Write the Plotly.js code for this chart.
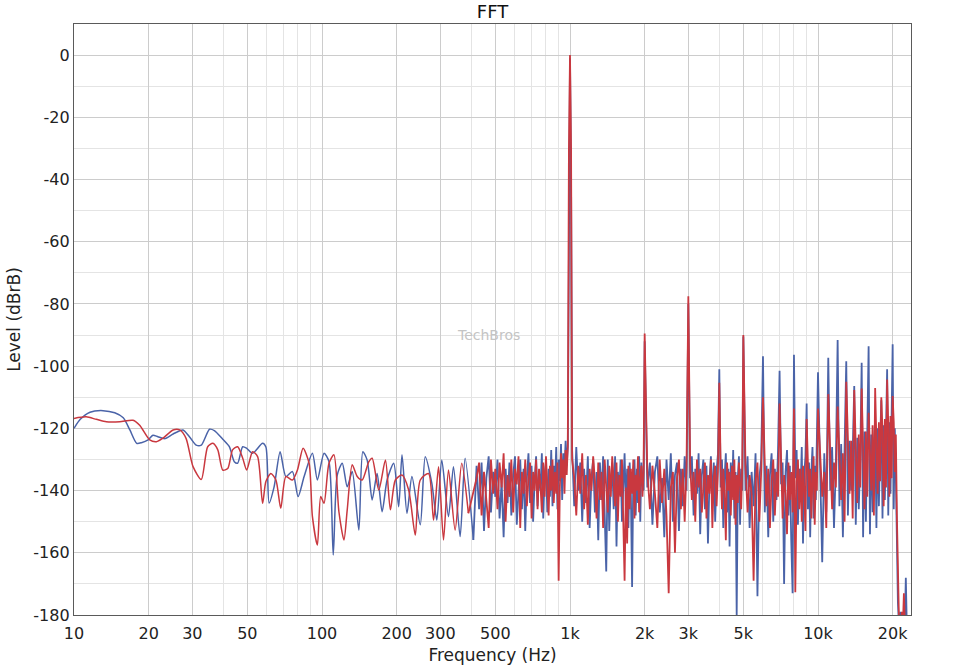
<!DOCTYPE html>
<html>
<head>
<meta charset="utf-8">
<script src="https://cdn.plot.ly/plotly-3.0.1.min.js"></script>
<style>
  html, body { margin: 0; padding: 0; background: #fff; }
  #fft { width: 953px; height: 666px; }
</style>
</head>
<body>
<div id="fft"></div>
<script>
// x axis ticks
const tickVals = [10, 20, 30, 50, 100, 200, 300, 500, 1000, 2000, 3000, 5000, 10000, 20000];
const tickText = ['10', '20', '30', '50', '100', '200', '300', '500', '1k', '2k', '3k', '5k', '10k', '20k'];
const minorVals = [40, 60, 70, 80, 90, 400, 600, 700, 800, 900, 4000, 6000, 7000, 8000, 9000];
// y axis ticks (plain hyphen, as in the original)
const levelTicks = [-180, -160, -140, -120, -100, -80, -60, -40, -20, 0];
const levelText = ['-180', '-160', '-140', '-120', '-100', '-80', '-60', '-40', '-20', '0'];

// low end (Hz / dBrB)
const blueLowFreq = [10, 10.6, 11.6, 13.1, 14.6, 15.8, 16.8, 17.9, 18.7, 19.9,
  20.8, 21.8, 23.2, 25.1, 27.5, 29.2, 31.1, 32.6, 35.2, 36.8,
  39.8, 42.3, 44.3, 45.7, 47.9, 49.7, 52.5, 57.6, 59.4, 61.2,
  64.1, 67.8, 71.5, 76, 80.1, 84.7, 91.5, 95.8, 101.9, 106.7,
  111, 115.2, 120.7, 126.4, 132.4, 140.8, 146.1, 152.1, 159.3, 166.8,
  174.7, 183, 194.6, 203.8, 210.2, 220.1, 230.5, 249, 260.8, 277.3,
  290.4, 304.1, 323.6, 338.9, 360.6, 377.6, 407.7];
const blueLowLevel = [-120, -117.1, -114.8, -114.3, -115, -116.6, -120.5, -124.8, -124.6, -123.7,
  -122.2, -122.7, -123.3, -121.8, -120.5, -122.7, -125.4, -125.4, -120.3, -120.7,
  -123.5, -125.9, -130.7, -131.2, -125.9, -126.4, -128, -124.8, -126, -144,
  -138.8, -127.5, -135.5, -133.9, -141.9, -135.5, -128, -136.6, -128, -130.7,
  -160.7, -135, -131.2, -138.8, -133.9, -152.7, -127.5, -130.2, -143, -134.5,
  -146.8, -136.6, -131.2, -145.2, -128.5, -147.3, -135.5, -151, -129.1, -137.7,
  -149.5, -130.2, -148.4, -132.3, -154.8, -129.6, -155.9];

const redLowFreq = [10, 11.2, 12.3, 13.5, 15.3, 17.3, 18.4, 20.2, 21.5, 22.8,
  25.1, 26.7, 28.3, 30.2, 32.6, 34.6, 36.3, 38, 39.8, 41.7,
  43.6, 45.7, 47.9, 49.7, 52.5, 55, 57.6, 59.4, 62.2, 65.2,
  68.2, 71.5, 76, 79.6, 83.9, 88.7, 91.5, 95.8, 98.8, 101.9,
  106.7, 111.7, 117, 122.6, 126.4, 132.4, 138.7, 145.2, 154.5, 159.3,
  169.4, 180.2, 188.7, 197.6, 210.2, 223.6, 237.8, 249, 269, 281.7,
  295.1, 309, 323.6, 344.2, 366, 389.3];
const redLowLevel = [-116.8, -116.3, -117.1, -117.9, -117.9, -117.4, -119, -123.7, -124.3, -123.2,
  -120.5, -120.5, -123.2, -132.3, -136.4, -125.9, -124.8, -126.9, -133.4, -132.9,
  -126.9, -125.9, -129.6, -133.4, -127.5, -129.1, -144.1, -137.1, -134.5, -136.6,
  -145.7, -135.5, -136.6, -133.4, -126.4, -131.2, -148.4, -157.5, -141.9, -144.1,
  -131.2, -128.5, -146.8, -155.9, -146.2, -131.7, -135.5, -136.6, -130.7, -129.6,
  -139.8, -130.2, -146.2, -136.6, -135, -139.8, -154.3, -136.6, -134.5, -149.5,
  -132.3, -155.9, -133.4, -152.7, -131.2, -147.3];

// dense part, both channels on the same bins
const denseFreq = [
  420, 430, 440, 450, 460, 470, 480, 490, 500, 510,
  520, 530, 540, 550, 560, 570, 580, 590, 600, 610,
  620, 630, 640, 650, 660, 670, 680, 690, 700, 710,
  720, 730, 740, 750, 760, 770, 780, 790, 800, 810,
  820, 830, 840, 850, 860, 870, 880, 890, 900, 910,
  920, 930, 940, 950, 960, 970, 980,
  990, 1000, 1010,
  1020, 1040, 1060, 1080, 1100, 1120, 1140, 1160, 1180, 1200,
  1220, 1240, 1260, 1280, 1300, 1320, 1340, 1360, 1380, 1400,
  1420, 1440, 1460, 1480, 1500, 1520, 1540, 1560, 1580, 1600,
  1620, 1640, 1660, 1680, 1700, 1720, 1740, 1760, 1780, 1800,
  1820, 1840, 1860, 1880, 1900, 1920, 1940, 1960, 1980,
  2000,
  2050, 2100, 2150, 2200, 2250, 2300, 2350, 2400, 2450, 2500,
  2550, 2600, 2650, 2700, 2750, 2800, 2850, 2900, 2950,
  3000,
  3050, 3100, 3150, 3200, 3250, 3300, 3350, 3400, 3450, 3500,
  3550, 3600, 3650, 3700, 3750, 3800, 3850, 3900, 3950, 4000,
  4050, 4100, 4150, 4200, 4250, 4300, 4350, 4400, 4450, 4500,
  4550, 4600, 4650, 4700, 4750, 4800, 4850, 4900, 4950,
  5000,
  5100, 5200, 5300, 5400, 5500, 5600, 5700, 5800, 5900, 6000,
  6100, 6200, 6300, 6400, 6500, 6600, 6700, 6800, 6900, 7000,
  7100, 7200, 7300, 7400, 7500, 7600, 7700, 7800, 7900, 8000,
  8100, 8200, 8300, 8400, 8500, 8600, 8700, 8800, 8900, 9000,
  9100, 9200, 9300, 9400, 9500, 9600, 9700, 9800, 9900,
  10000,
  10200, 10400, 10600, 10800, 11000,
  11200, 11400, 11600, 11800, 12000,
  12200, 12400, 12600, 12800, 13000,
  13200, 13400, 13600, 13800, 14000,
  14200, 14400, 14600, 14800, 15000,
  15200, 15400, 15600, 15800, 16000,
  16200, 16400, 16600, 16800, 17000,
  17200, 17400, 17600, 17800, 18000,
  18200, 18400, 18600, 18800, 19000,
  19200, 19400, 19600, 19800, 20000,
  20200, 20400, 20600, 20800];

const blueDenseLevel = [
  -132, -146, -131, -153, -136, -129, -147, -134, -142, -130,
  -149, -137, -155, -133, -144, -131, -148, -135, -129, -151,
  -138, -130, -146, -133, -153, -136, -128, -144, -132, -150,
  -137, -129, -145, -134, -140, -128, -149, -135, -131, -147,
  -133, -142, -127, -145, -132, -138, -126, -146, -130, -137,
  -125, -143, -128, -134, -124, -132, -126,
  -40, -1, -40,
  -127, -145, -126, -140, -131, -150, -133, -144, -129, -152,
  -136, -130, -147, -134, -156, -131, -143, -129, -149, -166,
  -130, -153, -137, -131, -146, -129, -158, -134, -141, -130,
  -150, -136, -128, -145, -133, -152, -131, -141, -171, -135,
  -130, -148, -133, -144, -129, -150, -131, -138, -140,
  -92,
  -139, -131, -151, -134, -129, -147, -136, -155, -130, -143,
  -128, -150, -135, -131, -153, -133, -145, -129, -140,
  -80,
  -136, -129, -148, -133, -141, -128, -154, -135, -130, -146,
  -132, -157, -137, -129, -144, -131, -150, -134, -128, -101,
  -139, -130, -152, -136, -128, -147, -133, -158, -131, -142,
  -127, -149, -134, -180, -136, -129, -151, -133, -140,
  -90.5,
  -140, -129, -152, -134, -145, -128, -174, -136, -130, -96.8,
  -147, -132, -155, -135, -128, -150, -133, -143, -127, -101.5,
  -138, -131, -170, -134, -127, -148, -132, -156, -173, -96.3,
  -136, -127, -151, -133, -141, -126, -157, -135, -129, -112,
  -146, -131, -155, -134, -126, -149, -132, -143, -127,
  -102,
  -133, -163, -128, -147, -97.3,
  -140, -126, -152, -132, -91.6,
  -145, -125, -155, -131, -98.4,
  -148, -124, -140, -128, -106.4,
  -151, -123, -146, -130, -98.9,
  -155, -121, -150, -127, -93.6,
  -154, -122, -147, -126, -118,
  -152, -120, -145, -125, -111,
  -149, -119, -143, -123, -101,
  -148, -118, -141, -122, -93,
  -146, -120, -135, -158];

const redDenseLevel = [
  -136, -131, -148, -134, -143, -152, -130, -141, -133, -146,
  -131, -139, -128, -150, -135, -142, -130, -147, -133, -138,
  -129, -152, -134, -141, -130, -145, -136, -131, -149, -134,
  -140, -130, -146, -133, -138, -147, -131, -142, -129, -139,
  -148, -132, -140, -130, -144, -134, -141, -131, -169, -139,
  -128, -136, -130, -141, -127, -135, -125,
  -30, 0, -30,
  -130, -136, -148, -132, -141, -128, -146, -135, -151, -133,
  -140, -129, -137, -149, -131, -143, -134, -152, -130, -139,
  -147, -132, -142, -129, -138, -145, -131, -150, -135, -142,
  -130, -148, -169, -139, -157, -132, -146, -133, -141, -130,
  -149, -135, -140, -129, -147, -136, -132, -142, -134,
  -89.5,
  -134, -146, -132, -141, -152, -130, -144, -133, -148, -173,
  -139, -134, -160, -136, -130, -146, -133, -150, -132,
  -77.5,
  -131, -143, -134, -150, -130, -139, -133, -147, -139, -131,
  -149, -135, -141, -130, -152, -136, -132, -145, -134, -105.3,
  -132, -146, -133, -141, -156, -131, -140, -134, -148, -132,
  -143, -130, -151, -135, -144, -131, -138, -146, -132,
  -90,
  -132, -147, -135, -141, -169, -137, -131, -150, -134, -110,
  -131, -145, -133, -152, -137, -130, -148, -134, -142, -112,
  -130, -149, -135, -141, -154, -131, -143, -134, -147, -113.6,
  -172.7, -137, -130, -146, -133, -150, -132, -140, -153, -117,
  -131, -142, -133, -149, -136, -129, -151, -134, -140,
  -113.6,
  -128, -142, -134, -152, -109,
  -127, -146, -131, -139, -113,
  -129, -143, -128, -150, -105,
  -126, -141, -124, -149, -107.7,
  -125, -144, -122, -139, -107.2,
  -128, -146, -121, -142, -115,
  -125, -140, -119, -148, -107,
  -123, -141, -118, -137, -110,
  -121, -145, -117, -139, -104.3,
  -119, -142, -116, -136, -109.6,
  -118, -134, -122, -148];

// roll-off above 20k
const blueTailFreq = [21000, 21200, 21500, 21800, 22100, 22400, 22600, 22800, 23200, 23700];
const blueTailLevel = [-176, -183, -179, -183, -180, -183, -168, -183, -181, -183];
const redTailFreq = [21000, 21200, 21500, 21800, 22000, 22200, 22400, 22700, 23700];
const redTailLevel = [-170, -181, -183, -179, -183, -173, -183, -183, -183];

const FONT = 'DejaVu Sans, Verdana, sans-serif';
const BLUE = '#4a63a8';
const RED = '#c9383f';

// low part drawn smooth, rest straight segments; dense part starts at the last low point
function lowTrace(f, l, color) {
  return {
    x: f, y: l, type: 'scatter', mode: 'lines',
    line: {color: color, width: 1.5, shape: 'spline', smoothing: 0.7}
  };
}

function highTrace(f, l, dense, tf, tl, color) {
  return {
    x: [f[f.length - 1]].concat(denseFreq, tf),
    y: [l[l.length - 1]].concat(dense, tl),
    type: 'scatter', mode: 'lines',
    line: {color: color, width: 1.8}
  };
}

var data = [
  lowTrace(blueLowFreq, blueLowLevel, BLUE),
  highTrace(blueLowFreq, blueLowLevel, blueDenseLevel, blueTailFreq, blueTailLevel, BLUE),
  lowTrace(redLowFreq, redLowLevel, RED),
  highTrace(redLowFreq, redLowLevel, redDenseLevel, redTailFreq, redTailLevel, RED)
];

var layout = {
  width: 953,
  height: 666,
  margin: {l: 74, r: 42, t: 24, b: 51},
  paper_bgcolor: '#ffffff',
  plot_bgcolor: '#ffffff',
  showlegend: false,
  font: {family: FONT, color: '#222', size: 16},
  title: {
    text: 'FFT',
    font: {family: FONT, size: 18, color: '#111'},
    x: 0.5,
    xref: 'paper',
    y: 0.982,
    yref: 'container',
    yanchor: 'middle'
  },
  xaxis: {
    type: 'log',
    range: [1, 4.375],
    tickmode: 'array',
    tickvals: tickVals,
    ticktext: tickText,
    showgrid: true,
    gridcolor: '#cccccc',
    gridwidth: 1,
    minor: {tickmode: 'array', tickvals: minorVals, showgrid: true, gridcolor: '#e4e4e4', ticks: ''},
    showline: true,
    mirror: true,
    linecolor: '#5a5a5a',
    linewidth: 1.2,
    ticks: '',
    ticklabelstandoff: 4,
    zeroline: false,
    tickfont: {size: 16},
    title: {text: 'Frequency (Hz)', font: {size: 17}, standoff: 6}
  },
  yaxis: {
    range: [-180, 10],
    tickmode: 'array',
    tickvals: levelTicks,
    ticktext: levelText,
    showgrid: true,
    gridcolor: '#cccccc',
    minor: {tickmode: 'linear', tick0: 0, dtick: 10, showgrid: true, gridcolor: '#e4e4e4', ticks: ''},
    showline: true,
    mirror: true,
    linecolor: '#5a5a5a',
    linewidth: 1.2,
    ticks: '',
    zeroline: false,
    tickfont: {size: 16},
    title: {text: 'Level (dBrB)', font: {size: 17}, standoff: 8}
  },
  annotations: [{
    text: 'TechBros',
    xref: 'paper', yref: 'paper',
    x: 0.495, y: 0.474,
    showarrow: false,
    font: {family: FONT, size: 14, color: '#c4c4c4'}
  }]
};

Plotly.newPlot('fft', data, layout, {displayModeBar: false, staticPlot: true});
</script>
</body>
</html>
